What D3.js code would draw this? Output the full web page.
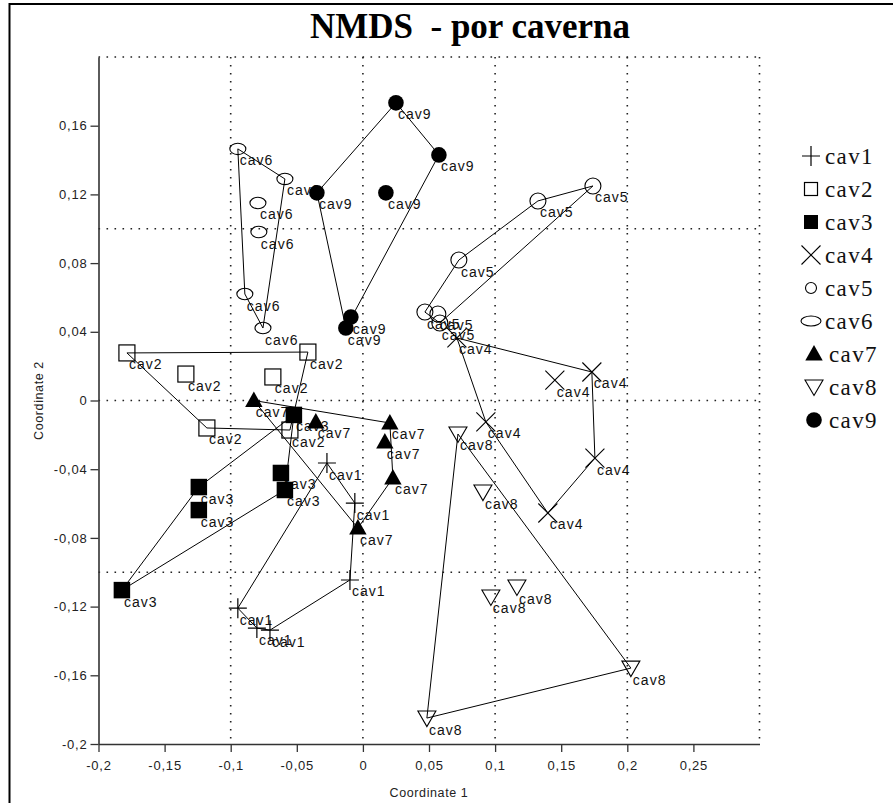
<!DOCTYPE html>
<html>
<head>
<meta charset="utf-8">
<script src="https://cdn.jsdelivr.net/npm/d3@7"></script>
<style>
  body { margin: 0; background: #fff; }
  text { font-family: "Liberation Sans", Arial, sans-serif; }
</style>
</head>
<body>
<svg id="chart" width="893" height="803"></svg>
<script>
// NMDS scores per cave (Coordinate 1, Coordinate 2).
var caves = ["cav1", "cav2", "cav3", "cav4", "cav5", "cav6", "cav7", "cav8", "cav9"];

var cav1 = [[-0.0946, -0.1209], [-0.0802, -0.1325], [-0.0703, -0.1337], [-0.0098, -0.1045], [-0.0061, -0.0597], [-0.0272, -0.0364]];
var cav2 = [[-0.1785, 0.0277], [-0.0416, 0.0282], [-0.1339, 0.0154], [-0.0681, 0.0137], [-0.1180, -0.0160], [-0.0552, -0.0172]];
var cav3 = [[-0.1823, -0.1104], [-0.1241, -0.0504], [-0.1241, -0.0638], [-0.0522, -0.0084], [-0.0620, -0.0422], [-0.0590, -0.0521]];
var cav4 = [[0.0711, 0.0364], [0.1732, 0.0166], [0.1452, 0.0119], [0.0930, -0.0125], [0.1755, -0.0335], [0.1399, -0.0655]];
var cav5 = [[0.1740, 0.1249], [0.1324, 0.1162], [0.0726, 0.0818], [0.0469, 0.0515], [0.0567, 0.0504], [0.0582, 0.0451]];
var cav6 = [[-0.0946, 0.1465], [-0.0590, 0.1290], [-0.0794, 0.1150], [-0.0787, 0.0981], [-0.0893, 0.0620], [-0.0756, 0.0422]];
var cav7 = [[-0.0825, 0.0000], [-0.0356, -0.0125], [0.0204, -0.0131], [0.0166, -0.0242], [0.0227, -0.0451], [-0.0038, -0.0743]];
var cav8 = [[0.0719, -0.0195], [0.0908, -0.0533], [0.0968, -0.1144], [0.1165, -0.1086], [0.2027, -0.1558], [0.0484, -0.1849]];
var cav9 = [[0.0250, 0.1733], [0.0575, 0.1430], [-0.0348, 0.1209], [0.0174, 0.1209], [-0.0091, 0.0486], [-0.0129, 0.0422]];

var scores = [cav1, cav2, cav3, cav4, cav5, cav6, cav7, cav8, cav9];

// Axis ticks and grid.
var xTicks = [-0.2, -0.15, -0.1, -0.05, 0, 0.05, 0.1, 0.15, 0.2, 0.25];
var yTicks = [-0.2, -0.16, -0.12, -0.08, -0.04, 0, 0.04, 0.08, 0.12, 0.16];
var xGrid = [-0.1, 0, 0.1, 0.2, 0.3];
var yGrid = [-0.1, 0, 0.1, 0.2];

var svg = d3.select("#chart");

// Outer frame (only left and top edges fall inside the picture).
svg.append("rect")
    .attr("x", 9.5).attr("y", 4)
    .attr("width", 1000).attr("height", 1000)
    .attr("fill", "none").attr("stroke", "#000").attr("stroke-width", 2);

svg.append("text")
    .attr("x", 470).attr("y", 38)
    .attr("text-anchor", "middle")
    .style("white-space", "pre")
    .style("font-family", "'Liberation Serif', 'Times New Roman', serif")
    .style("font-weight", "bold")
    .style("font-size", "35px")
    .text("NMDS  - por caverna");

var x = d3.scaleLinear().domain([-0.2, 0.3]).range([98.5, 759.5]);
var y = d3.scaleLinear().domain([-0.2, 0.2]).range([744, 57]);

var fmt = d3.formatLocale({decimal: ",", thousands: ".", grouping: [3], currency: ["", ""], minus: "-"}).format("~f");

// Dotted grid.
var grid = svg.append("g")
    .attr("stroke", "#222").attr("stroke-width", 1.6)
    .attr("stroke-dasharray", "1.6 6.4");
grid.selectAll("line.v").data(xGrid).enter().append("line")
    .attr("class", "v")
    .attr("x1", function(d) { return x(d); }).attr("x2", function(d) { return x(d); })
    .attr("y1", y(0.2)).attr("y2", y(-0.2));
grid.selectAll("line.h").data(yGrid).enter().append("line")
    .attr("class", "h")
    .attr("x1", x(-0.2)).attr("x2", x(0.3))
    .attr("y1", function(d) { return y(d); }).attr("y2", function(d) { return y(d); });

// Axes.
var xAxis = svg.append("g")
    .attr("transform", "translate(0," + y(-0.2) + ")")
    .call(d3.axisBottom(x).tickValues(xTicks).tickFormat(fmt).tickSize(8).tickPadding(9).tickSizeOuter(0));
var yAxis = svg.append("g")
    .attr("transform", "translate(" + x(-0.2) + ",0)")
    .call(d3.axisLeft(y).tickValues(yTicks).tickFormat(fmt).tickSize(8).tickPadding(3).tickSizeOuter(0));

[xAxis, yAxis].forEach(function(a) {
    a.select(".domain").attr("stroke", "#333").attr("stroke-width", 1.6);
    a.selectAll(".tick line").attr("stroke", "#333").attr("stroke-width", 1.3);
    a.selectAll(".tick text")
        .attr("fill", "#222")
        .style("font-family", "'Liberation Sans', Arial, sans-serif")
        .style("font-size", "13px")
        .style("letter-spacing", "0.8px");
});

svg.append("text")
    .attr("x", (x(-0.2) + x(0.3)) / 2).attr("y", 797)
    .attr("text-anchor", "middle")
    .attr("fill", "#222")
    .style("font-size", "12.5px")
    .style("letter-spacing", "0.6px")
    .text("Coordinate 1");

svg.append("text")
    .attr("transform", "translate(43," + (y(0.2) + y(-0.2)) / 2 + ") rotate(-90)")
    .attr("text-anchor", "middle")
    .attr("fill", "#222")
    .style("font-size", "12.5px")
    .style("letter-spacing", "0.6px")
    .text("Coordinate 2");

// Marker drawing, one shape per cave.
function drawMarker(g, cave, legend) {
    switch (cave) {
        case "cav1":
            g.append("path").attr("d", "M-9,0H9M0,-10V10").attr("stroke", "#000").attr("stroke-width", 1.2).attr("fill", "none");
            break;
        case "cav2":
            var a = legend ? 13 : 16;
            g.append("rect").attr("x", -a / 2).attr("y", -a / 2).attr("width", a).attr("height", a)
                .attr("fill", "none").attr("stroke", "#000").attr("stroke-width", 1.2);
            break;
        case "cav3":
            var b = legend ? 14 : 16.5;
            g.append("rect").attr("x", -b / 2).attr("y", -b / 2).attr("width", b).attr("height", b).attr("fill", "#000");
            break;
        case "cav4":
            g.append("path").attr("d", "M-9.5,-9.5L9.5,9.5M-9.5,9.5L9.5,-9.5").attr("stroke", "#000").attr("stroke-width", 1.1).attr("fill", "none");
            break;
        case "cav5":
            g.append("circle").attr("r", legend ? 5.5 : 8).attr("fill", "none").attr("stroke", "#000").attr("stroke-width", 1.1);
            break;
        case "cav6":
            g.append("ellipse").attr("rx", legend ? 10 : 8).attr("ry", legend ? 5 : 5.7).attr("fill", "none").attr("stroke", "#000").attr("stroke-width", 1.1);
            break;
        case "cav7":
            g.append("path").attr("d", "M0,-9L8.7,6.5L-8.7,6.5Z").attr("fill", "#000");
            break;
        case "cav8":
            g.append("path").attr("d", "M-9,-7H9L0,8.5Z").attr("fill", "none").attr("stroke", "#000").attr("stroke-width", 1.1);
            break;
        case "cav9":
            g.append("circle").attr("r", 7.8).attr("fill", "#000");
            break;
    }
}

var groups = caves.map(function(c, i) {
    return { cave: c, points: scores[i].map(function(p) { return [x(p[0]), y(p[1])]; }) };
});

// Convex hull around each cave.
svg.append("g").selectAll("path.hull").data(groups).enter().append("path")
    .attr("class", "hull")
    .attr("d", function(d) { return "M" + d3.polygonHull(d.points).join("L") + "Z"; })
    .attr("fill", "none").attr("stroke", "#000").attr("stroke-width", 1);

// Point labels, then markers on top.
var flat = [];
groups.forEach(function(g) { g.points.forEach(function(p) { flat.push({cave: g.cave, p: p}); }); });

svg.append("g").selectAll("text").data(flat).enter().append("text")
    .attr("x", function(d) { return d.p[0] + 2; })
    .attr("y", function(d) { return d.p[1] + 16.5; })
    .attr("fill", "#111")
    .style("font-size", "14px")
    .style("letter-spacing", "1px")
    .text(function(d) { return d.cave; });

svg.append("g").selectAll("g").data(flat).enter().append("g")
    .attr("transform", function(d) { return "translate(" + d.p[0] + "," + d.p[1] + ")"; })
    .each(function(d) { drawMarker(d3.select(this), d.cave, false); });

// Legend.
var legendY = d3.scaleLinear().domain([0, caves.length - 1]).range([164, 428]);
var legend = svg.append("g").selectAll("g").data(caves).enter().append("g")
    .attr("transform", function(d, i) { return "translate(811," + legendY(i) + ")"; });
legend.append("g")
    .attr("transform", function(d, i) { return "translate(" + (i >= 6 ? 3 : 0) + ",-8)"; })
    .each(function(d) { drawMarker(d3.select(this), d, true); });
legend.append("text")
    .attr("x", function(d, i) { return i >= 6 ? 18 : 14; })
    .attr("y", 0)
    .attr("fill", "#111")
    .style("font-family", "'Liberation Serif', 'Times New Roman', serif")
    .style("font-size", "23px")
    .style("letter-spacing", "1.4px")
    .text(function(d) { return d; });
</script>
</body>
</html>
